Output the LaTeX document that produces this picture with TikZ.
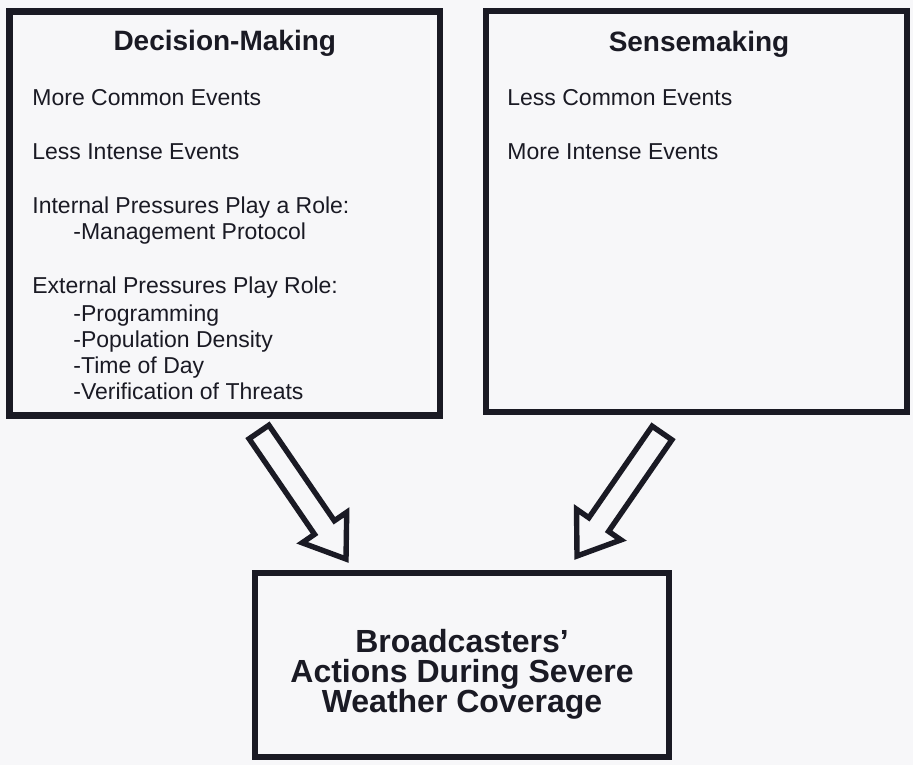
\documentclass[tikz,border=0pt]{standalone}
\usepackage{fontspec}
\setmainfont{Liberation Sans}
\usetikzlibrary{calc}
\definecolor{ink}{RGB}{26,26,36}
\definecolor{paper}{RGB}{247,247,249}

\begin{document}
\begin{tikzpicture}[x=0.5pt,y=-0.5pt,
    box/.style={draw=ink,line width=3.4pt,inner sep=0pt},
    head/.style={anchor=base,inner sep=0pt,text=ink,font=\fontsize{14}{16}\selectfont\bfseries},
    item/.style={anchor=base west,inner sep=0pt,text=ink,font=\fontsize{11.5}{13}\selectfont},
    outcome/.style={anchor=base,inner sep=0pt,text=ink,font=\fontsize{16}{18}\selectfont\bfseries},
    hollow/.style={draw=ink,fill=paper,line width=2.7pt,line join=miter,
      to path={let \p1=($(\tikztotarget)-(\tikztostart)$),
        \n1={atan2(\y1,\x1)}, \n2={veclen(\x1,\y1)} in
        -- ($(\tikztostart)+(\n1+90:6pt)$)
        -- ($(\tikztostart)+(\n1:\n2-19pt)+(\n1+90:6pt)$)
        -- ($(\tikztostart)+(\n1:\n2-19pt)+(\n1+90:13.5pt)$)
        -- (\tikztotarget)
        -- ($(\tikztostart)+(\n1:\n2-19pt)+(\n1-90:13.5pt)$)
        -- ($(\tikztostart)+(\n1:\n2-19pt)+(\n1-90:6pt)$)
        -- ($(\tikztostart)+(\n1-90:6pt)$)
        -- cycle}}]
  \useasboundingbox (0,0) rectangle (913,765);
  \fill[paper] (0,0) rectangle (913,765);

  % the three boxes
  \node[box,minimum width=215.25pt,minimum height=202pt] (dm) at (224.75,213.5) {};
  \node[box,minimum width=210.5pt,minimum height=200.5pt] (sm) at (696.5,211.5) {};
  \node[box,minimum width=207pt,minimum height=92pt] (bwc) at (462,665) {};

  \node[head] (dmhead) at (224.75,51) {Decision-Making};
  \node[head] (smhead) at (699,51.5) {Sensemaking};

  \foreach \n/\x/\y/\t in {1/32/105/More Common Events, 2/32/159/Less Intense Events,
      3/32/213/Internal Pressures Play a Role:, 4/73/239/-Management Protocol,
      5/32/293/External Pressures Play Role:, 6/73/321/-Programming,
      7/73/347/-Population Density, 8/73/373/-Time of Day,
      9/73/399/-Verification of Threats}
    {\node[item] (dmitem\n) at (\x,\y) {\t};}

  \node[item] (smitem1) at (507,105) {Less Common Events};
  \node[item] (smitem2) at (507,159) {More Intense Events};

  \node[outcome] (bwc1) at (462,652) {Broadcasters'};
  \node[outcome] (bwc2) at (462,682) {Actions During Severe};
  \node[outcome] (bwc3) at (462,712) {Weather Coverage};

  % hollow arrows down to the bottom box
  \coordinate (dmtail) at (259,432);
  \coordinate (dmtip) at (346,559);
  \coordinate (smtail) at (662,433);
  \coordinate (smtip) at (577,556);
  \draw[hollow] (dmtail) to (dmtip);
  \draw[hollow] (smtail) to (smtip);
\end{tikzpicture}
\end{document}
